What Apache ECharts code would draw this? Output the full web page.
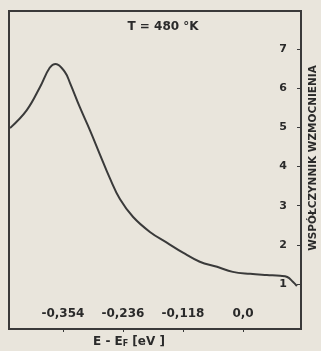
<!DOCTYPE html>
<html>
<head>
<meta charset="utf-8">
<script src="https://cdn.jsdelivr.net/npm/echarts@6/dist/echarts.min.js"></script>
<style>
  html, body { margin: 0; padding: 0; background: #e9e5dc; }
  #container { width: 321px; height: 351px; }
</style>
</head>
<body>
<div id="container"></div>
<script>
// energy E - E_F [eV] and gain factor
var energy = [-0.458, -0.425, -0.399, -0.380, -0.368, -0.350, -0.340, -0.321, -0.301, -0.281,
              -0.262, -0.242, -0.216, -0.183, -0.149, -0.118, -0.085, -0.051, -0.020, 0.014,
              0.047, 0.073, 0.087, 0.098, 0.106];
var gain = [4.98, 5.44, 6.03, 6.52, 6.62, 6.41, 6.13, 5.52, 4.93, 4.30,
            3.71, 3.17, 2.71, 2.33, 2.05, 1.80, 1.57, 1.44, 1.31, 1.26,
            1.23, 1.21, 1.18, 1.06, 0.95];
var xTicks = [-0.354, -0.236, -0.118, 0];
var xTickLabels = ['-0,354', '-0,236', '-0,118', '0,0'];
var yTicks = [1, 2, 3, 4, 5, 6, 7];

var points = energy.map(function (e, i) { return [e, gain[i]]; });

var dom = document.getElementById("container");
var myChart = echarts.init(dom);
var ink = '#3a3a3a';
var font = 'DejaVu Sans';

option = {
    backgroundColor: '#e9e5dc',
    animation: false,
    grid: {
        left: 9, right: 20, top: 11, bottom: 22,
        show: true,
        borderColor: ink,
        borderWidth: 2,
        backgroundColor: 'transparent'
    },
    xAxis: {
        type: 'value',
        min: -0.460,
        max: 0.114,
        axisLine: {show: false, onZero: false},
        splitLine: {show: false},
        axisTick: {
            show: true, length: 3, inside: false,
            customValues: xTicks,
            lineStyle: {color: ink}
        },
        axisLabel: {
            inside: true,
            margin: 9,
            customValues: xTicks,
            color: '#2a2a2a',
            fontFamily: font,
            fontWeight: 'bold',
            fontSize: 12,
            formatter: function (v) {
                for (var i = 0; i < xTicks.length; i++) {
                    if (Math.abs(xTicks[i] - v) < 1e-6) return xTickLabels[i];
                }
                return '';
            }
        }
    },
    yAxis: {
        type: 'value',
        position: 'right',
        min: -0.148,
        max: 7.97,
        axisLine: {show: false, onZero: false},
        splitLine: {show: false},
        axisTick: {
            show: true, inside: true, length: 4,
            customValues: yTicks,
            lineStyle: {color: ink}
        },
        axisLabel: {
            inside: true,
            margin: 14,
            customValues: yTicks,
            color: '#2a2a2a',
            fontFamily: font,
            fontWeight: 'bold',
            fontSize: 11
        }
    },
    graphic: [
        {
            type: 'text',
            x: 163, y: 27,
            style: {
                text: 'T = 480 °K',
                fill: '#2a2a2a',
                font: 'bold 12px "DejaVu Sans"',
                align: 'center',
                verticalAlign: 'middle'
            }
        },
        {
            type: 'text',
            x: 313, y: 158,
            rotation: Math.PI / 2,
            style: {
                text: 'WSPÓŁCZYNNIK WZMOCNIENIA',
                fill: '#2a2a2a',
                font: 'bold 10.5px "DejaVu Sans"',
                align: 'center',
                verticalAlign: 'middle'
            }
        },
        {
            type: 'text',
            x: 93, y: 335,
            style: {
                text: '{m|E - E}{s|F}{m| [eV ]}',
                rich: {
                    m: {fontFamily: font, fontWeight: 'bold', fontSize: 12, fill: '#2a2a2a'},
                    s: {fontFamily: font, fontWeight: 'bold', fontSize: 8, fill: '#2a2a2a', verticalAlign: 'bottom', padding: [5, 0, 0, 0]}
                }
            }
        }
    ],
    series: [
        {
            type: 'line',
            data: points,
            smooth: 0.4,
            showSymbol: false,
            lineStyle: {color: ink, width: 2}
        }
    ]
};
if (option && typeof option === "object") {
    myChart.setOption(option, true);
}
</script>
</body>
</html>
